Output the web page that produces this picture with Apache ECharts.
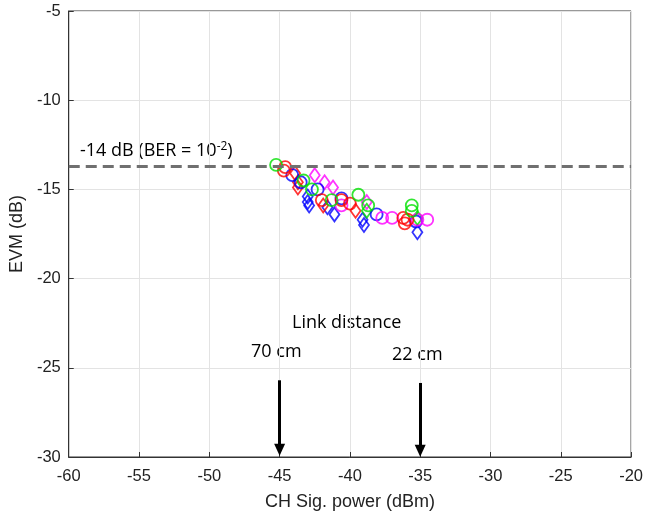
<!DOCTYPE html>
<html>
<head>
<meta charset="utf-8">
<script src="https://cdn.jsdelivr.net/npm/echarts@6/dist/echarts.min.js"></script>
<style>
  html, body { margin: 0; padding: 0; background: #fff; }
  #evmChart { width: 646px; height: 516px; }
</style>
</head>
<body>
<div id="evmChart"></div>
<script>
// measured points [power dBm, EVM dB]
const greenCircles = [[-45.25, -13.63], [-43.3, -14.5], [-42.7, -15.0], [-41.3, -15.6], [-39.4, -15.3], [-38.7, -15.9], [-35.6, -15.9], [-35.6, -16.2]];
const greenDiamonds = [[-35.2, -16.6], [-38.8, -16.2]];
const redCircles = [[-44.6, -13.75], [-44.7, -13.95], [-42.0, -15.6], [-40.6, -15.6], [-40.0, -15.8], [-36.2, -16.6], [-36.1, -16.9], [-35.9, -16.7]];
const redDiamonds = [[-43.9, -14.1], [-43.7, -14.6], [-43.7, -14.9], [-41.9, -15.9], [-39.6, -16.2]];
const blueCircles = [[-44.1, -14.2], [-43.5, -14.6], [-42.3, -15.0], [-40.6, -15.5], [-38.1, -16.4], [-35.3, -16.8]];
const blueDiamonds = [[-43.0, -15.4], [-43.0, -15.7], [-42.9, -15.9], [-41.6, -16.0], [-41.1, -16.4], [-39.1, -16.7], [-39.0, -17.0], [-35.2, -17.4]];
const magentaDiamonds = [[-42.5, -14.2], [-41.8, -14.6], [-41.2, -14.9], [-38.8, -15.7]];
const magentaCircles = [[-40.6, -15.9], [-37.7, -16.6], [-37.0, -16.6], [-35.2, -16.7], [-34.5, -16.7]];

const berLimit = -13.7;
// link distance arrows: [x, yStart, yEnd]
const arrows = [[-45, -25.7, -29.6], [-35, -25.85, -29.65]];

const chart = echarts.init(document.getElementById("evmChart"));

function markers(data, color, shape) {
  return {
    type: "scatter",
    data: data,
    symbol: shape,
    symbolSize: shape === "diamond" ? [10, 14] : 12,
    itemStyle: {
      color: "rgba(0,0,0,0)",
      borderColor: color,
      borderWidth: 1.8
    },
    z: 3
  };
}

const axisFont = { color: "#222", fontSize: 16.5, fontFamily: "Liberation Sans" };
const nameFont = { color: "#222", fontSize: 18, fontFamily: "Liberation Sans" };
const noteFont = "18px 'Open Sans'";

chart.setOption({
  animation: false,
  grid: {
    left: 68,
    right: 14,
    top: 11,
    bottom: 59,
    show: true,
    borderColor: "#333",
    borderWidth: 1
  },
  xAxis: {
    type: "value",
    min: -60,
    max: -20,
    interval: 5,
    name: "CH Sig. power (dBm)",
    nameLocation: "middle",
    nameGap: 36,
    nameTextStyle: nameFont,
    axisLine: { lineStyle: { color: "#333" } },
    axisTick: { inside: true, length: 5, lineStyle: { color: "#333" } },
    axisLabel: Object.assign({ margin: 11 }, axisFont),
    splitLine: { lineStyle: { color: "#e3e3e3" } }
  },
  yAxis: {
    type: "value",
    min: -30,
    max: -5,
    interval: 5,
    name: "EVM (dB)",
    nameLocation: "middle",
    nameGap: 42,
    nameTextStyle: nameFont,
    axisLine: { lineStyle: { color: "#333" } },
    axisTick: { inside: true, length: 5, lineStyle: { color: "#333" } },
    axisLabel: Object.assign({ margin: 8 }, axisFont),
    splitLine: { lineStyle: { color: "#e3e3e3" } }
  },
  series: [
    {
      type: "line",
      data: [],
      markLine: {
        silent: true,
        symbol: "none",
        label: { show: false },
        lineStyle: { color: "#707070", type: [11, 6], width: 3 },
        data: [{ yAxis: berLimit }]
      }
    },
    {
      type: "line",
      data: [],
      markLine: {
        silent: true,
        symbol: ["none", "triangle"],
        symbolSize: [11, 12],
        label: { show: false },
        lineStyle: { color: "#000", type: "solid", width: 3 },
        data: arrows.map(a => [{ coord: [a[0], a[1]] }, { coord: [a[0], a[2]] }])
      }
    },
    markers(blueDiamonds, "#0000ff", "diamond"),
    markers(magentaDiamonds, "#ff00ff", "diamond"),
    markers(redDiamonds, "#ff0000", "diamond"),
    markers(greenDiamonds, "#00e000", "diamond"),
    markers(blueCircles, "#0000ff", "circle"),
    markers(magentaCircles, "#ff00ff", "circle"),
    markers(redCircles, "#ff0000", "circle"),
    markers(greenCircles, "#00e000", "circle")
  ],
  graphic: [
    {
      type: "text",
      left: 80,
      top: 141,
      style: {
        text: "-14 dB (BER = 10{sup|-2})",
        font: noteFont,
        fill: "#000",
        rich: {
          sup: { fontSize: 12, verticalAlign: "top", padding: [0, 0, 8, 0], fontFamily: "Open Sans" }
        }
      }
    },
    {
      type: "text",
      left: 292,
      top: 314,
      style: { text: "Link distance", font: noteFont, fill: "#000" }
    },
    {
      type: "text",
      left: 251,
      top: 343,
      style: { text: "70 cm", font: noteFont, fill: "#000" }
    },
    {
      type: "text",
      left: 392,
      top: 346,
      style: { text: "22 cm", font: noteFont, fill: "#000" }
    }
  ]
});
</script>
</body>
</html>
